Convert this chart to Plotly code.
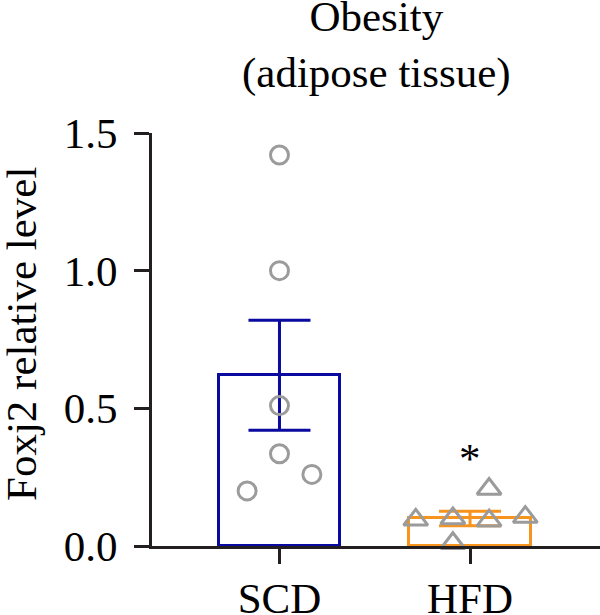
import plotly.graph_objects as go

categories = ["SCD", "HFD"]
means = [0.62, 0.10]
sems = [0.20, 0.026]
scd_values = [1.42, 1.00, 0.51, 0.335, 0.26, 0.20]
scd_jitter = [0.0, 0.0, 0.0, 0.0, 0.17, -0.17]
hfd_values = [0.095, 0.10, 0.207, 0.092, 0.105, 0.01]
hfd_jitter = [-0.285, -0.09, 0.10, 0.10, 0.29, -0.09]
y_ticks = [0.0, 0.5, 1.0, 1.5]
y_tick_labels = ["0.0", "0.5", "1.0", "1.5"]

FONT = "Liberation Serif"
AX = "#231f20"
BLUE = "#0a0aa0"
ORANGE = "#f7941d"
GRAY = "#9b9b9b"
FS = 43

fig = go.Figure()
colors = [BLUE, ORANGE]
for i in range(2):
    fig.add_trace(go.Bar(
        x=[i], y=[means[i]], width=0.64,
        marker=dict(color="white", line=dict(color=colors[i], width=3)),
        error_y=dict(type="data", array=[sems[i]], color=colors[i], thickness=3, width=31),
        showlegend=False, hoverinfo="skip",
    ))

fig.add_trace(go.Scatter(
    x=[0 + j for j in scd_jitter], y=scd_values, mode="markers",
    marker=dict(symbol="circle-open", size=18, color=GRAY, line=dict(width=3, color=GRAY)),
    showlegend=False, cliponaxis=False,
))
fig.add_trace(go.Scatter(
    x=[1 + j for j in hfd_jitter], y=hfd_values, mode="markers",
    marker=dict(symbol="triangle-up-open", size=21, color=GRAY, line=dict(width=3, color=GRAY)),
    showlegend=False, cliponaxis=False,
))

fig.add_annotation(x=1, y=hfd_values[2] + 0.02, text="*", showarrow=False,
                   xref="x", yref="y", yanchor="bottom",
                   font=dict(family=FONT, size=FS, color="black"))

fig.add_annotation(x=0.5, y=1 + (133 - 99) / 413, xref="paper", yref="paper",
                   text="Obesity<br>(adipose tissue)", showarrow=False,
                   xanchor="center", yanchor="bottom",
                   font=dict(family=FONT, size=FS, color="black"))

fig.add_annotation(x=(21 - 152) / 448, y=(546 - 334) / 413, xref="paper", yref="paper",
                   text="Foxj2 relative level", textangle=-90, showarrow=False,
                   xanchor="center", yanchor="middle",
                   font=dict(family=FONT, size=FS, color="black"))

fig.update_layout(
    width=600, height=615,
    margin=dict(l=152, r=0, t=133, b=69),
    plot_bgcolor="white", paper_bgcolor="white",
    font=dict(family=FONT, size=FS, color="black"),
    bargap=0,
)
fig.update_xaxes(
    range=[-0.669, 1.682], tickvals=[0, 1], ticktext=categories,
    showline=True, linecolor=AX, linewidth=3,
    ticks="outside", ticklen=15, tickwidth=3, tickcolor=AX,
    showgrid=False, zeroline=False, automargin=False,
    ticklabelstandoff=-3,
    tickfont=dict(family=FONT, size=FS, color="black"),
)
fig.update_yaxes(
    range=[0, 1.5], tickvals=y_ticks, ticktext=y_tick_labels,
    showline=True, linecolor=AX, linewidth=3,
    ticks="outside", ticklen=15, tickwidth=3, tickcolor=AX,
    showgrid=False, zeroline=False, automargin=False,
    ticklabelstandoff=8,
    tickfont=dict(family=FONT, size=FS, color="black"),
)

fig.write_html("out.html")
